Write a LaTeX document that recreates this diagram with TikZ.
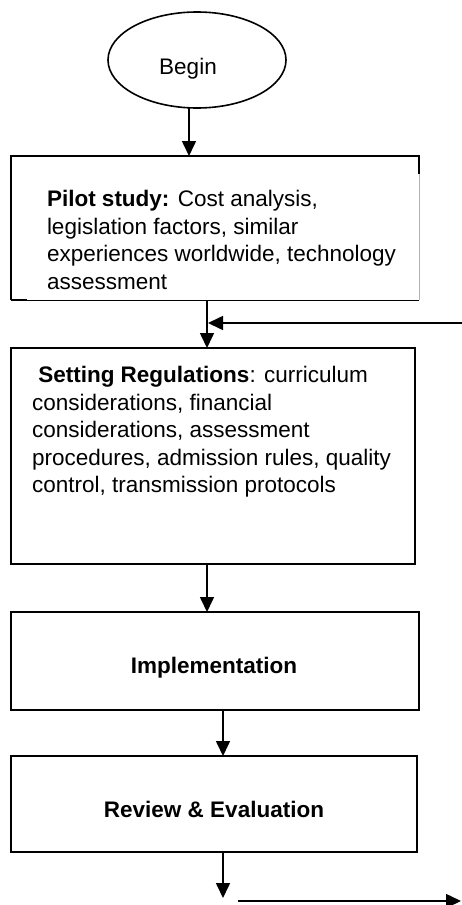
\documentclass[tikz,border=0pt]{standalone}
\usepackage{fontspec}
\setmainfont{Liberation Sans}
\usetikzlibrary{arrows.meta,shapes.geometric}
\tikzset{
  ln/.style={line width=1.6pt},
  arr/.style={ln,-{Triangle[length=15pt,width=14pt]}},
  boxnode/.style={draw,ln,rectangle,inner sep=0,outer sep=0},
  txt/.style={inner sep=0,outer sep=0,align=left,anchor=north west,font=\fontsize{22.5}{27.5}\selectfont},
}
\begin{document}
\begin{tikzpicture}[x=1pt,y=-1pt]
\useasboundingbox (0,0) rectangle (462,905);
% Begin ellipse
\node[draw,ln,ellipse,minimum width=178pt,minimum height=96pt,inner sep=0,outer sep=0] (begin) at (197,60) {};
\node[inner sep=0,anchor=base,font=\fontsize{22.5}{27.5}\selectfont] (begintxt) at (188,74) {Begin};
% Pilot box (irregular outline)
\node[rectangle,minimum width=408pt,minimum height=144pt,inner sep=0,outer sep=0] (pilot) at (215,228) {};
\draw[ln] (pilot.south west) -- (pilot.north west) -- (pilot.north east) -- ([yshift=-18pt]pilot.north east);
\draw[line width=0.8pt,black!30] ([yshift=-18pt]pilot.north east) -- (pilot.south east);
\draw[line width=1pt] (pilot.south west) -- (pilot.south east);
\draw[ln] (pilot.south west) -- ([xshift=16pt]pilot.south west);
\node[txt] (pilottxt) at (47,190.6) {\textbf{Pilot study:} Cost analysis,\\legislation factors, similar\\experiences worldwide, technology\\assessment};
% Setting box
\node[boxnode,minimum width=404pt,minimum height=216pt] (setting) at (213,456) {};
\node[txt] (settingtxt) at (32,366.6) {\ \textbf{Setting Regulations}: curriculum\\considerations, financial\\considerations, assessment\\procedures, admission rules, quality\\control, transmission protocols};
% Implementation box
\node[boxnode,minimum width=408pt,minimum height=98pt] (impl) at (215,661) {};
\node[inner sep=0,anchor=base,font=\bfseries\fontsize{22.5}{27.5}\selectfont] (impltxt) at (214,673) {Implementation};
% Review box
\node[boxnode,minimum width=406pt,minimum height=96pt] (review) at (214,804) {};
\node[inner sep=0,anchor=base,font=\bfseries\fontsize{22.5}{27.5}\selectfont] (reviewtxt) at (214,817) {Review \& Evaluation};
% connectors
\draw[arr] ([xshift=-8pt]begin.south) -- ([xshift=-8pt]begin.south |- pilot.north);
\draw[arr] ([xshift=-8pt]pilot.south) -- ([xshift=-8pt]pilot.south |- setting.north);
\coordinate (fb) at (462,323);
\draw[arr] (fb) -- ([xshift=-7pt]pilot.south |- fb);
\draw[arr] ([xshift=-6pt]setting.south) -- ([xshift=-6pt]setting.south |- impl.north);
\draw[arr] ([xshift=8pt]impl.south) -- ([xshift=8pt]impl.south |- review.north);
\coordinate (end1) at (223,898);
\draw[arr] ([xshift=9pt]review.south) -- (end1);
\coordinate (o1) at (238,901);
\coordinate (o2) at (461,901);
\draw[arr] (o1) -- (o2);
\end{tikzpicture}
\end{document}
